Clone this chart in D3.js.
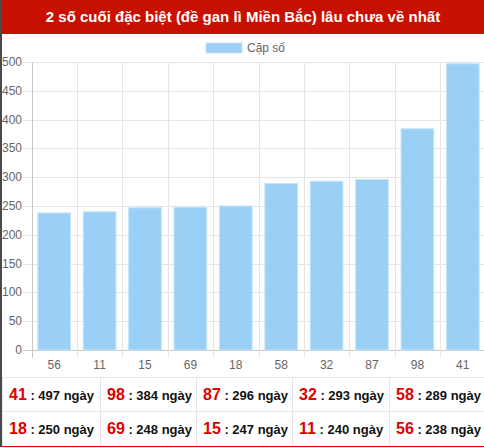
<!DOCTYPE html>
<html>
<head>
<meta charset="utf-8">
<script src="https://cdn.jsdelivr.net/npm/d3@7"></script>
<style>
  body { margin: 0; background: #fff; }
  #main_svg { display: block; font-family: "Liberation Sans", Arial, sans-serif; }
</style>
</head>
<body>
<svg id="main_svg" width="484" height="447"></svg>
<script>
const title = "2 số cuối đặc biệt (đề gan lì Miền Bắc) lâu chưa về nhất";
const seriesName = "Cặp số";
const labels = ["56", "11", "15", "69", "18", "58", "32", "87", "98", "41"];
const days = [238, 240, 247, 248, 250, 289, 293, 296, 384, 497];
const yTicks = [0, 50, 100, 150, 200, 250, 300, 350, 400, 450, 500];
const unit = "ngày";

const W = 484, H = 447;
const svg = d3.select("#main_svg");

// title band
svg.append("rect").attr("x", 0).attr("y", 0).attr("width", W).attr("height", 34).attr("fill", "#c81000");
svg.append("text")
  .attr("x", 243).attr("y", 22)
  .attr("text-anchor", "middle")
  .attr("fill", "#fff")
  .style("font-size", "15px")
  .style("font-weight", "bold")
  .text(title);

// legend
svg.append("rect").attr("x", 206).attr("y", 43).attr("width", 36).attr("height", 10)
  .attr("fill", "#9ad0f5").attr("stroke", "#c5e4fa").attr("stroke-width", 1);
svg.append("text").attr("x", 247).attr("y", 52).attr("fill", "#666")
  .style("font-size", "12px").text(seriesName);

// chart
const x = d3.scaleBand().domain(labels).range([31.5, 485.5]);
const y = d3.scaleLinear().domain([0, 500]).range([350, 62]);

const grid = svg.append("g");
grid.selectAll("line.h").data(yTicks).enter().append("line")
  .attr("x1", 23).attr("x2", 486)
  .attr("y1", d => Math.round(y(d)) + 0.5).attr("y2", d => Math.round(y(d)) + 0.5)
  .attr("stroke", d => d === 0 ? "#c8c8c8" : "#e5e5e5");
grid.selectAll("line.v").data(labels).enter().append("line")
  .attr("x1", d => Math.round(x(d)) + 0.5).attr("x2", d => Math.round(x(d)) + 0.5)
  .attr("y1", 62).attr("y2", 358)
  .attr("stroke", (d, i) => i === 0 ? "#c8c8c8" : "#e5e5e5");

svg.append("g").selectAll("text").data(yTicks).enter().append("text")
  .attr("x", 22).attr("y", d => y(d) + 4)
  .attr("text-anchor", "end").attr("fill", "#666")
  .style("font-size", "12px").text(d => d);

svg.append("g").selectAll("text").data(labels).enter().append("text")
  .attr("x", d => x(d) + x.bandwidth() / 2).attr("y", 369)
  .attr("text-anchor", "middle").attr("fill", "#666")
  .style("font-size", "12px").text(d => d);

const bw = x.bandwidth() * 0.72;
svg.append("g").selectAll("rect").data(labels).enter().append("rect")
  .attr("x", d => x(d) + (x.bandwidth() - bw) / 2)
  .attr("y", (d, i) => y(days[i]))
  .attr("width", bw)
  .attr("height", (d, i) => y(0) - y(days[i]))
  .attr("fill", "#9ad0f5")
  .attr("stroke", "#c5e4fa")
  .attr("stroke-width", 1);

// table of counts, sorted desc
const rows = labels.map((d, i) => ({ label: d, v: days[i] }))
  .sort((a, b) => b.v - a.v);
const colX = [2, 100, 196, 292, 389, 484];
const rowY = [377, 411, 446];

const tbl = svg.append("g");
rowY.slice(0, 2).forEach(yy => {
  tbl.append("line").attr("x1", 2).attr("x2", W).attr("y1", yy + 0.5).attr("y2", yy + 0.5).attr("stroke", "#e6e6e6");
});
colX.slice(0, 5).forEach(xx => {
  tbl.append("line").attr("x1", xx + 0.5).attr("x2", xx + 0.5).attr("y1", 377).attr("y2", 446).attr("stroke", "#e6e6e6");
});
tbl.append("line").attr("x1", 0).attr("x2", W).attr("y1", 446.5).attr("y2", 446.5).attr("stroke", "#d40000");

rows.forEach((r, i) => {
  const c = i % 5, rr = Math.floor(i / 5);
  const t = tbl.append("text")
    .attr("x", colX[c] + 7)
    .attr("y", rowY[rr] + 23)
    .style("font-weight", "bold");
  t.append("tspan").attr("fill", "#e00000").style("font-size", "16px").text(r.label);
  t.append("tspan").attr("fill", "#111").style("font-size", "13px").text(" : " + r.v + " " + unit);
});

// left frame edge
svg.append("rect").attr("x", 0).attr("y", 0).attr("width", 2).attr("height", H).attr("fill", "#4a4a4a");
</script>
</body>
</html>
